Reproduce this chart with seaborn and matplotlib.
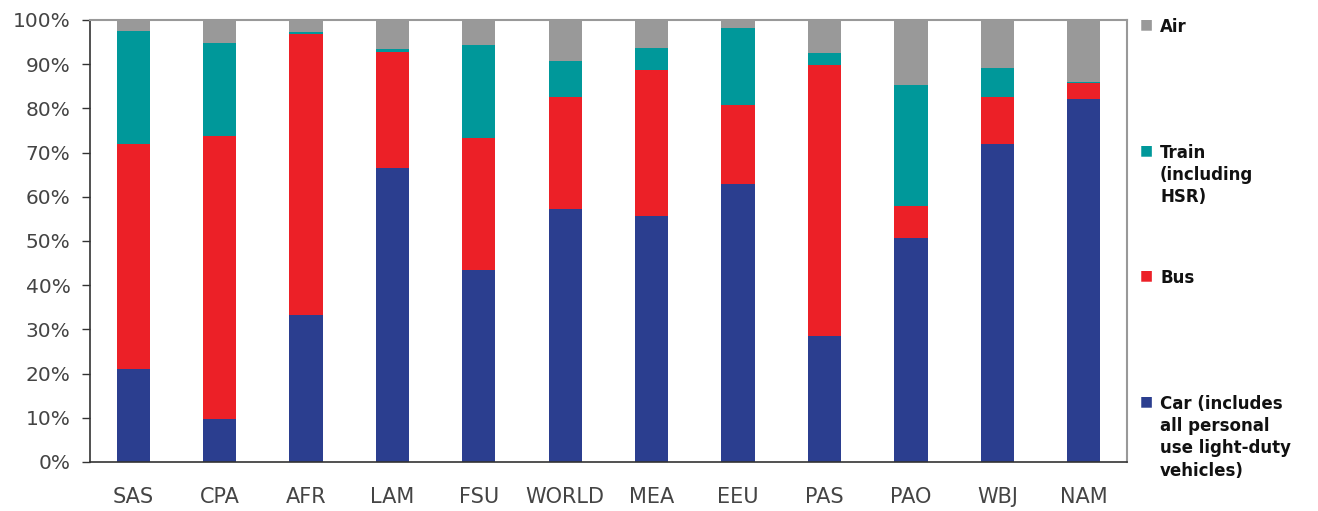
import numpy as np
import pandas as pd
import matplotlib
matplotlib.use('Agg')
import matplotlib.pyplot as plt
import seaborn as sns

# region order and modal shares (%)
regions = ['SAS', 'CPA', 'AFR', 'LAM', 'FSU', 'WORLD', 'MEA', 'EEU', 'PAS', 'PAO', 'WBJ', 'NAM']
car = [21.0, 9.7, 33.3, 66.4, 43.4, 57.2, 55.7, 62.8, 28.5, 50.6, 71.9, 82.1]
bus = [51.0, 64.1, 63.5, 26.4, 29.8, 25.4, 33.0, 18.0, 61.3, 7.2, 10.7, 3.6]
train = [25.5, 20.9, 0.4, 0.6, 21.1, 8.1, 4.9, 17.3, 2.7, 27.5, 6.5, 0.3]
air = [2.5, 5.3, 2.8, 6.6, 5.7, 9.3, 6.4, 1.9, 7.5, 14.7, 10.9, 14.0]

modes = ['Car', 'Bus', 'Train', 'Air']
colors = {'Car': '#2B3E8F', 'Bus': '#EC2027', 'Train': '#00989A', 'Air': '#999999'}
legend_labels = {
    'Air': 'Air',
    'Train': 'Train\n(including\nHSR)',
    'Bus': 'Bus',
    'Car': 'Car (includes\nall personal\nuse light-duty\nvehicles)',
}

df = pd.DataFrame({'region': regions, 'Car': car, 'Bus': bus, 'Train': train, 'Air': air})

sns.set_style('white')
plt.rcParams['font.family'] = ['DejaVu Sans']

fig = plt.figure(figsize=(13.18, 5.11), dpi=100)
ax = fig.add_axes([0.0683, 0.0959, 0.855 - 0.0683, 0.961 - 0.0959])

bottom = np.zeros(len(regions))
for m in modes:
    sns.barplot(data=df, x='region', y=m, color=colors[m], bottom=bottom,
                width=0.385, saturation=1, ax=ax, linewidth=0)
    bottom = bottom + df[m].to_numpy()

ax.set_xlim(-0.5, len(regions) - 0.5)
ax.set_ylim(0, 100)
ax.set_yticks(np.arange(0, 101, 10))
ax.set_yticklabels([f'{v}%' for v in range(0, 101, 10)])
ax.set_xlabel('')
ax.set_ylabel('')

# Excel-like category boundary ticks
ax.set_xticks(np.arange(-0.5, len(regions), 1), minor=True)
ax.tick_params(axis='x', which='major', length=0, pad=18, labelsize=15, labelcolor='#444444')
ax.tick_params(axis='x', which='minor', length=6, width=1, color='#333333', direction='out')
ax.tick_params(axis='y', which='major', length=6, width=1, color='#333333', direction='out',
               pad=8, labelsize=14.5, labelcolor='#444444')
ax.tick_params(left=True, bottom=True)

for side in ['left', 'bottom']:
    ax.spines[side].set_color('#333333')
    ax.spines[side].set_linewidth(1.2)
for side in ['top', 'right']:
    ax.spines[side].set_color('#999999')
    ax.spines[side].set_linewidth(1.5)
    ax.spines[side].set_visible(True)

# legend on the right, entries spread over the height
legend_y = {'Air': 27, 'Train': 153, 'Bus': 278, 'Car': 404}
H = 511.0
for m in ['Air', 'Train', 'Bus', 'Car']:
    y = 1 - (legend_y[m] - 9) / H
    fig.text(1140 / 1318, y + 1 / H, '\u25A0', color=colors[m], fontsize=10, va='top', ha='left')
    fig.text(1160 / 1318, y, legend_labels[m], fontsize=12, fontweight='bold',
             va='top', ha='left', linespacing=1.3, color='#111111')

fig.savefig('out.png', dpi=100)
